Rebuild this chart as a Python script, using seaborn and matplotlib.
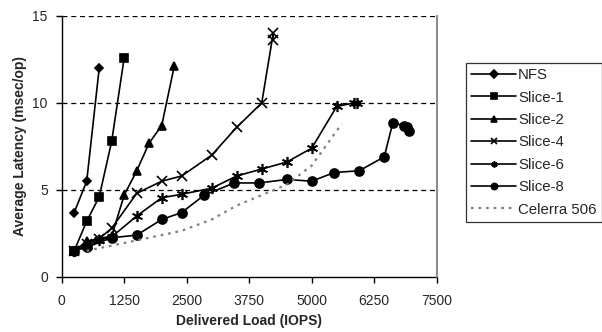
import matplotlib
matplotlib.use("Agg")
import matplotlib.pyplot as plt
import seaborn as sns
import pandas as pd

nfs_x = [250, 500, 750]
nfs_y = [3.7, 5.5, 12.0]
s1_x = [250, 500, 750, 1000, 1250]
s1_y = [1.5, 3.2, 4.6, 7.8, 12.6]
s2_x = [250, 500, 750, 1000, 1250, 1500, 1750, 2000, 2250]
s2_y = [1.5, 2.05, 2.2, 2.35, 4.7, 6.1, 7.7, 8.7, 12.1]
s4_x = [250, 500, 750, 1000, 1500, 2000, 2400, 3000, 3500, 4000, 4230, 4230]
s4_y = [1.5, 1.9, 2.2, 2.8, 4.8, 5.5, 5.8, 7.0, 8.6, 10.0, 14.0, 13.6]
s6_x = [250, 500, 750, 1000, 1500, 2000, 2400, 3000, 3500, 4000, 4500, 5000, 5500, 5850, 5900]
s6_y = [1.5, 1.8, 2.1, 2.3, 3.5, 4.55, 4.75, 5.1, 5.8, 6.2, 6.6, 7.4, 9.8, 10.0, 10.0]
s8_x = [250, 500, 1000, 1500, 2000, 2400, 2850, 3450, 3950, 4500, 5000, 5450, 5950, 6450, 6620, 6850, 6900, 6950]
s8_y = [1.5, 1.7, 2.25, 2.4, 3.3, 3.7, 4.7, 5.4, 5.4, 5.6, 5.5, 6.0, 6.1, 6.9, 8.85, 8.7, 8.6, 8.4]
cel_x = [500, 1500, 2400, 3000, 3500, 4500, 5000, 5600]
cel_y = [1.5, 2.1, 2.65, 3.3, 4.1, 5.3, 6.4, 8.8]

series = [
    ("NFS", nfs_x, nfs_y, "D", 4.5),
    ("Slice-1", s1_x, s1_y, "s", 6),
    ("Slice-2", s2_x, s2_y, "^", 6),
    ("Slice-4", s4_x, s4_y, "x", 7),
    ("Slice-6", s6_x, s6_y, (6, 2, 0), 8),
    ("Slice-8", s8_x, s8_y, "o", 6.5),
]

sns.set_style("white")
plt.rcParams['font.family'] = ['Liberation Sans', 'DejaVu Sans']

fig = plt.figure(figsize=(6.02, 3.32), dpi=100)
ax = fig.add_axes([0.1025, 0.166, 0.623, 0.786])

for name, xs, ys, mk, ms in series:
    df = pd.DataFrame({"x": xs, "y": ys})
    sns.lineplot(data=df, x="x", y="y", ax=ax, estimator=None, sort=False,
                 color="black", lw=1.2, marker=mk, markersize=ms,
                 markeredgecolor="black", markerfacecolor="black",
                 markeredgewidth=1.2, label=name)

dfc = pd.DataFrame({"x": cel_x, "y": cel_y})
sns.lineplot(data=dfc, x="x", y="y", ax=ax, estimator=None, sort=False,
             color="#808080", lw=1.6, linestyle=(0, (1.2, 2.2)), label="Celerra 506")

ax.set_xlim(0, 7500)
ax.set_ylim(0, 15)
ax.set_xticks([0, 1250, 2500, 3750, 5000, 6250, 7500])
ax.set_yticks([0, 5, 10, 15])
for yv in [5, 10, 15]:
    ax.axhline(yv, color="black", lw=0.9, ls=(0, (4, 3)), zorder=0)

ax.spines["top"].set_visible(False)
ax.spines["right"].set_visible(True)
ax.spines["right"].set_color("#808080")
ax.spines["right"].set_linewidth(1.3)
ax.spines["right"].set_zorder(5)
for s in ["left", "bottom"]:
    ax.spines[s].set_visible(True)
    ax.spines[s].set_color("black")
    ax.spines[s].set_linewidth(1.0)

ax.tick_params(axis="both", direction="out", length=4, width=1.0, color="black",
               labelsize=10, left=True, bottom=True)
ax.tick_params(axis="y", pad=6)
ax.tick_params(axis="x", pad=8)

ax.set_xlabel("Delivered Load (IOPS)", fontsize=10, fontweight="bold", labelpad=5)
ax.set_ylabel("Average Latency (msec/op)", fontsize=10, fontweight="bold", labelpad=4)

leg = ax.legend(loc="upper left", bbox_to_anchor=(1.078, 0.82), frameon=True,
                fontsize=10.8, handlelength=3.0, handletextpad=0.12,
                labelspacing=0.56, borderpad=0.35, fancybox=False, borderaxespad=0)
leg.get_frame().set_edgecolor("black")
leg.get_frame().set_linewidth(0.9)
for h in leg.legend_handles:
    if h.get_marker() not in (None, "None", ""):
        h.set_markersize(4.5)

fig.savefig("out.png", dpi=100)
